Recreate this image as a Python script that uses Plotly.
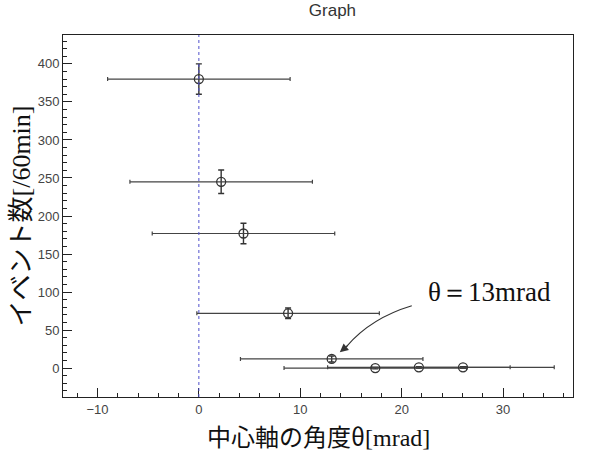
import plotly.graph_objects as go

# data
theta = [0.0, 2.2, 4.4, 8.8, 13.1, 17.4, 21.7, 26.05]
events = [380, 245, 177, 72, 12, 0, 1, 1]
theta_err = [9, 9, 9, 9, 9, 9, 9, 9]
events_err = [20, 15.5, 13.5, 7, 4, 1, 1, 1]

x_range = [-13.4, 36.9]
y_range = [-38, 438]

SERIF = "Liberation Serif, DejaVu Serif, serif"
JP = "Noto Sans CJK JP, sans-serif"
SANS = "Liberation Sans, Arial, sans-serif"

fig = go.Figure()
fig.add_trace(go.Scatter(
    x=theta, y=events, mode="markers",
    marker=dict(symbol="circle-open", size=9, color="#333", line=dict(width=1.3)),
    error_x=dict(type="data", array=theta_err, color="#444", thickness=1.2, width=2),
    error_y=dict(type="data", array=events_err, color="#333", thickness=1.4, width=3),
    showlegend=False, hoverinfo="skip",
))

fig.add_shape(type="line", xref="x", yref="paper", x0=0, x1=0, y0=0, y1=1,
              line=dict(color="#5050cc", width=1, dash="dot"))

# curved arrow
fig.add_shape(type="path", xref="x", yref="y",
              path="M 21.0,82 Q 17.0,66 14.6,29",
              line=dict(color="#333", width=1.2))
fig.add_annotation(x=13.9, y=21, ax=14.8, ay=31, xref="x", yref="y", axref="x", ayref="y",
                   text="", showarrow=True, arrowhead=2, arrowsize=1.4, arrowwidth=1.2,
                   arrowcolor="#333")
fig.add_annotation(x=28.7, y=100, xref="x", yref="y", text="θ＝13mrad", showarrow=False,
                   font=dict(family=SERIF, size=27, color="#111"), xanchor="center", yanchor="middle")

# x-axis title as annotation
fig.add_annotation(x=0.5, y=0, xref="paper", yref="paper", yanchor="middle", xanchor="center",
                   yshift=-38, showarrow=False,
                   text="中心軸の角度θ<span style='font-family:Liberation Serif'>[mrad]</span>",
                   font=dict(family=JP, size=24, color="#111"))

axis_common = dict(
    showline=True, linecolor="#222", linewidth=1, mirror=True,
    ticks="inside", tickcolor="#222", showgrid=False, zeroline=False,
    tickfont=dict(family=SANS, size=13, color="#444"), automargin=False,
)

fig.update_layout(
    width=610, height=450,
    margin=dict(l=63, r=37, t=35, b=53),
    paper_bgcolor="white", plot_bgcolor="white",
    title=dict(text="Graph", x=0.545, xanchor="center", y=1 - 10 / 450, yref="container",
               yanchor="middle", font=dict(family=SANS, size=17, color="#333")),
    xaxis=dict(range=x_range, dtick=10, tick0=0, ticklen=9,
               minor=dict(dtick=2, ticks="inside", ticklen=4, tickcolor="#222"),
               **axis_common),
    yaxis=dict(range=y_range, dtick=50, tick0=0, ticklen=9,
               minor=dict(dtick=10, ticks="inside", ticklen=4, tickcolor="#222"),
               title=dict(text="イベント数<span style='font-family:Liberation Serif'>[/60min]</span>",
                          font=dict(family=JP, size=26, color="#111"), standoff=2),
               **axis_common),
)

fig.write_html("out.html")
